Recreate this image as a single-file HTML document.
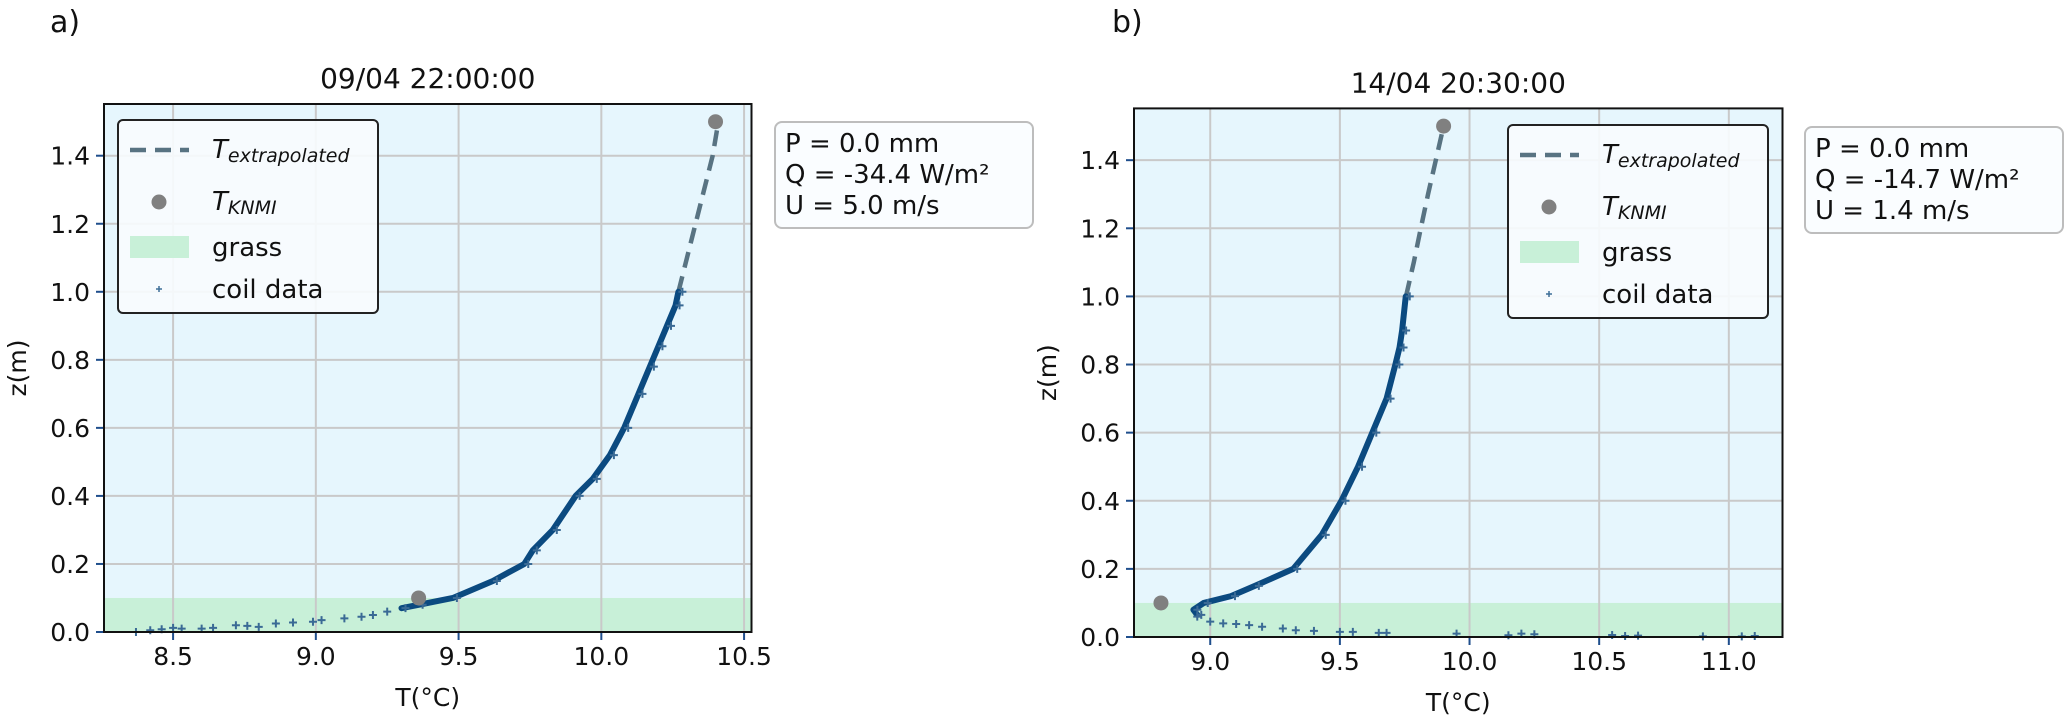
<!DOCTYPE html>
<html><head><meta charset="utf-8"><style>
html,body{margin:0;padding:0;background:#fff}
svg text{font-family:"DejaVu Sans","Liberation Sans",sans-serif;fill:#111}
</style></head><body>
<svg id="fig" width="2067" height="719" viewBox="0 0 2067 719" xmlns="http://www.w3.org/2000/svg"></svg>
<script>
const yTicks=[0.0,0.2,0.4,0.6,0.8,1.0,1.2,1.4];
const xTicksA=[8.5,9.0,9.5,10.0,10.5];
const xTicksB=[9.0,9.5,10.0,10.5,11.0];
const coilTA=[9.3,9.36,9.48,9.62,9.73,9.76,9.83,9.91,9.97,10.03,10.08,10.13,10.17,10.2,10.23,10.26,10.27];
const coilZA=[0.07,0.08,0.1,0.15,0.2,0.24,0.3,0.4,0.45,0.52,0.6,0.7,0.78,0.84,0.9,0.96,1.0];
const groundTA=[8.37,8.42,8.46,8.5,8.53,8.6,8.64,8.72,8.76,8.8,8.86,8.92,8.99,9.02,9.1,9.16,9.2,9.25];
const groundZA=[0.0,0.005,0.008,0.012,0.01,0.01,0.012,0.02,0.018,0.015,0.025,0.028,0.03,0.035,0.04,0.045,0.05,0.06];
const extTA=[10.27,10.3,10.33,10.36,10.39,10.41];
const extZA=[1.0,1.1,1.2,1.3,1.4,1.5];
const knmiTA=[10.40,9.36];
const knmiZA=[1.5,0.1];
const coilTB=[8.95,8.935,8.975,9.08,9.172,9.32,9.43,9.506,9.57,9.625,9.68,9.714,9.73,9.74,9.754];
const coilZB=[0.065,0.08,0.1,0.12,0.15,0.2,0.3,0.4,0.5,0.6,0.7,0.8,0.85,0.9,1.0];
const groundTB=[8.95,9.0,9.05,9.1,9.15,9.2,9.28,9.33,9.4,9.5,9.55,9.65,9.68,9.95,10.15,10.2,10.25,10.55,10.6,10.65,10.9,11.05,11.1];
const groundZB=[0.06,0.045,0.04,0.038,0.035,0.03,0.025,0.02,0.018,0.015,0.015,0.012,0.012,0.01,0.005,0.01,0.008,0.006,0.003,0.004,0.002,0.002,0.003];
const extTB=[9.755,9.785,9.812,9.84,9.87,9.9];
const extZB=[1.0,1.1,1.2,1.3,1.4,1.5];
const knmiTB=[9.90,8.81];
const knmiZB=[1.5,0.1];
const infoA=["P = 0.0 mm","Q = -34.4 W/m²","U = 5.0 m/s"];
const infoB=["P = 0.0 mm","Q = -14.7 W/m²","U = 1.4 m/s"];

const NS="http://www.w3.org/2000/svg";
const svg=document.getElementById('fig');
function mk(tag,at,parent){const e=document.createElementNS(NS,tag);for(const k in at)e.setAttribute(k,at[k]);(parent||svg).appendChild(e);return e;}

function panel(o){
  const g=mk('g',{});
  
  
  const X=v=>o.L+(v-o.xmin)/(o.xmax-o.xmin)*(o.R-o.L);
  const Y=v=>o.B-(v-0)/(1.552-0)*(o.B-o.T);
  const bg=mk('rect',{x:o.L,y:o.T,width:o.R-o.L,height:o.B-o.T,fill:'#e6f6fd'},g);
  
  
  const gr=mk('rect',{x:o.L,y:Y(0.1),width:o.R-o.L,height:o.B-Y(0.1),fill:'#c8f0d8'},g);
  
  
  yTicks.forEach(t=>{
    mk('line',{x1:o.L,x2:o.R,y1:Y(t),y2:Y(t),stroke:'#c9c9c9','stroke-width':2},g);
    mk('line',{x1:o.L-8,x2:o.L,y1:Y(t),y2:Y(t),stroke:'#1f4e8c','stroke-width':2},g);
    const tx=mk('text',{x:o.L-14,y:Y(t)+9,'text-anchor':'end','font-size':25},g);
    tx.textContent=t.toFixed(1);
    
    
  });
  o.xt.forEach(t=>{
    mk('line',{x1:X(t),x2:X(t),y1:o.T,y2:o.B,stroke:'#c9c9c9','stroke-width':2},g);
    mk('line',{x1:X(t),x2:X(t),y1:o.B,y2:o.B+8,stroke:'#1f4e8c','stroke-width':2},g);
    const tx=mk('text',{x:X(t),y:o.B+33,'text-anchor':'middle','font-size':25},g);
    tx.textContent=t.toFixed(1);
    
    
  });
  const ep=o.et.map((t,i)=>X(t)+','+Y(o.ez[i])).join(' ');
  const el=mk('polyline',{points:ep,fill:'none',stroke:'#587382','stroke-width':4.5,'stroke-dasharray':'16,9'},g);
  
  
  const cp=o.ct.map((t,i)=>X(t)+','+Y(o.cz[i])).join(' ');
  const cl=mk('polyline',{points:cp,fill:'none',stroke:'#0b4a80','stroke-width':6,'stroke-linejoin':'round','stroke-linecap':'round'},g);
  
  
  const drawPt=(x,y)=>{
    const p=mk('path',{d:`M${x-4},${y}h8M${x},${y-4}v8`,stroke:'#3a6a95','stroke-width':2},g);
    
    
  };
  o.ct.forEach((t,i)=>drawPt(X(t)+4,Y(o.cz[i])));
  o.gt.forEach((t,i)=>drawPt(X(t),Y(o.gz[i])));
  o.kt.forEach((t,i)=>{
    const c=mk('circle',{cx:X(t),cy:Y(o.kz[i]),r:7.5,fill:'#808080'},g);
    
    
  });
  const fr=mk('rect',{x:o.L,y:o.T,width:o.R-o.L,height:o.B-o.T,fill:'none',stroke:'#111','stroke-width':2},g);
  
  
  const ti=mk('text',{x:(o.L+o.R)/2,y:o.T-16,'text-anchor':'middle','font-size':28},g);
  ti.textContent=o.title;
  
  
  const xl=mk('text',{x:(o.L+o.R)/2,y:o.B+74,'text-anchor':'middle','font-size':25},g);
  xl.textContent='T(°C)';
  
  
  const yl=mk('text',{x:0,y:0,'text-anchor':'middle','font-size':25,transform:`translate(${o.L-78},${(o.T+o.B)/2}) rotate(-90)`},g);
  yl.textContent='z(m)';
  
  
  const lb=mk('text',{x:o.lab[0],y:32,'font-size':30,'font-family':'Liberation Sans'},g);
  lb.textContent=o.labText;
  
  
  const lg=mk('g',{},g);
  
  
  const lx=o.leg[0],ly=o.leg[1];
  mk('rect',{x:lx,y:ly,width:260,height:193,rx:5,fill:'#f8fcfe','fill-opacity':0.9,stroke:'#222','stroke-width':2},lg);
  mk('line',{x1:lx+12,x2:lx+71,y1:ly+30,y2:ly+30,stroke:'#587382','stroke-width':4.5,'stroke-dasharray':'16,9'},lg);
  mk('circle',{cx:lx+41,cy:ly+82,r:7.5,fill:'#808080'},lg);
  mk('rect',{x:lx+12,y:ly+116,width:59,height:22,fill:'#c8f0d8'},lg);
  mk('path',{d:`M${lx+38},${ly+169}h6M${lx+41},${ly+166}v6`,stroke:'#3f6f98','stroke-width':1.5},lg);
  const t1=mk('text',{x:lx+94,y:ly+38,'font-size':26,'font-style':'italic'},lg);
  t1.innerHTML='T<tspan font-size="19" dy="4">extrapolated</tspan>';
  const t2=mk('text',{x:lx+94,y:ly+90,'font-size':26,'font-style':'italic'},lg);
  t2.innerHTML='T<tspan font-size="19" dy="4">KNMI</tspan>';
  const t3=mk('text',{x:lx+94,y:ly+136,'font-size':26},lg);t3.textContent='grass';
  const t4=mk('text',{x:lx+94,y:ly+178,'font-size':26},lg);t4.textContent='coil data';
  [t1,t2,t3,t4].forEach(t=>{});
  const ib=mk('g',{},g);
  
  
  const ix=o.info[0],iy=o.info[1];
  mk('rect',{x:ix,y:iy,width:258,height:106,rx:7,fill:'#fafdff',stroke:'#bdbdbd','stroke-width':2},ib);
  o.infoText.forEach((s,i)=>{
    const t=mk('text',{x:ix+10,y:iy+30+i*31,'font-size':26},ib);
    t.textContent=s;
    
    
  });
}
panel({id:'a',L:104,R:751.5,T:104,B:632,xmin:8.258,xmax:10.526,xt:xTicksA,ct:coilTA,cz:coilZA,gt:groundTA,gz:groundZA,et:extTA,ez:extZA,kt:knmiTA,kz:knmiZA,title:'09/04 22:00:00',lab:[50],labText:'a)',leg:[118,120],info:[775,122],infoText:infoA});
panel({id:'b',L:1134,R:1782.5,T:108.4,B:637,xmin:8.706,xmax:11.207,xt:xTicksB,ct:coilTB,cz:coilZB,gt:groundTB,gz:groundZB,et:extTB,ez:extZB,kt:knmiTB,kz:knmiZB,title:'14/04 20:30:00',lab:[1112],labText:'b)',leg:[1508,125],info:[1805,127],infoText:infoB});
</script>
</body></html>
